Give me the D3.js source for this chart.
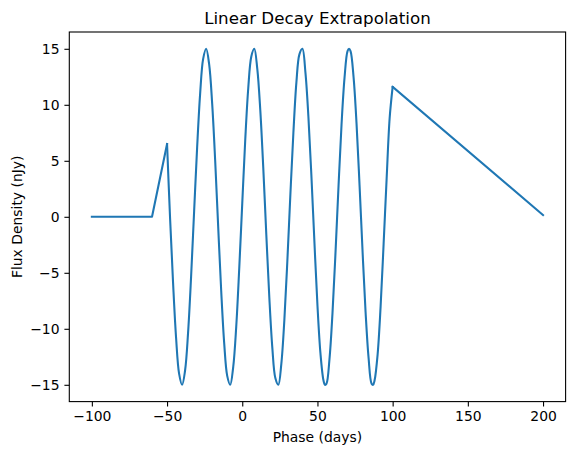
<!DOCTYPE html>
<html lang="en">
	<head>
		<meta charset="utf-8">
		<title>D3: Linear Decay Extrapolation</title>
		<script type="text/javascript" src="https://cdn.jsdelivr.net/npm/d3@7"></script>
		<style type="text/css">
			body {
				margin: 0;
				background: #fff;
			}

			svg text {
				font-family: "DejaVu Sans", sans-serif;
				fill: #000;
			}

			.tick text {
				font-size: 13.9px;
			}

			.domain,
			.tick line {
				stroke: #000;
				stroke-width: 1.1px;
			}
		</style>
	</head>
	<body>
		<script type="text/javascript">

			//Data
			var xTicks = [-100, -50, 0, 50, 100, 150, 200];
			var yTicks = [-15, -10, -5, 0, 5, 10, 15];

			// flat part and the ramp before the oscillation
			var prePhase = [-100, -60, -50];
			var preFlux = [0, 0, 6.5];

			// oscillating part, about every 2 days (plus the extremes)
			var oscPhase = [-50, -48, -46, -44, -42, -40, -38, -36, -34, -32, -30, -28, -26, -24, -22, -20,
				-18, -16, -14, -12, -10, -8, -6, -4, -2, 0, 2, 4, 6, 8, 10, 12, 14, 16, 18, 20, 22, 24, 26, 28,
				30, 32, 34, 36, 38, 40, 42, 44, 46, 48, 50, 52, 54, 55, 56, 58, 60, 62, 64, 66, 68, 70, 71, 72, 74, 76,
				78, 80, 82, 84, 86, 87, 88, 90, 92, 94, 96, 98, 100];
			var oscFlux = [6.5, -0.1, -5.9, -10.8, -14.0, -15.0, -13.7, -10.3, -5.3, 0.5, 6.2, 11.0, 14.1, 15.0, 13.6, 10.1,
				5.0, -0.9, -6.6, -11.3, -14.2, -15.0, -13.4, -9.8, -4.6, 1.2, 6.9, 11.5, 14.3, 15.0, 13.2, 9.5, 4.3, -1.6, -7.2, -11.7, -14.4, -15.0, -13.1, -9.2,
				-3.9, 2.0, 7.5, 12.0, 14.5, 15.0, 12.9, 8.9, 3.6, -2.3, -7.9, -12.2, -14.6, -15.0, -14.9, -12.7, -8.6, -3.2, 2.7, 8.2, 12.4, 14.8, 15.0, 14.8, 12.5, 8.3,
				2.8, -3.1, -8.5, -12.6, -14.9, -15.0, -14.6, -12.3, -8.0, -2.4, 3.4, 8.8, 11.6];

			// linear decay
			var decayPhase = [100, 200];
			var decayFlux = [11.6, 0.15];

			//Settings
			var w = 574;
			var h = 455;
			var margin = {left: 69.3, right: 8.4, top: 32, bottom: 53.4};

			var svg = d3.select("body")
				.append("svg")
				.attr("width", w)
				.attr("height", h);

			var x = d3.scaleLinear()
				.domain([-115, 215])
				.range([margin.left, w - margin.right]);

			var y = d3.scaleLinear()
				.domain([-16.5, 16.5])
				.range([h - margin.bottom, margin.top]);

			function toPoints(px, py) {
				return px.map(function(d, i) { return [d, py[i]]; });
			}

			var straight = d3.line()
				.x(function(d) { return x(d[0]); })
				.y(function(d) { return y(d[1]); });

			var smooth = d3.line()
				.x(function(d) { return x(d[0]); })
				.y(function(d) { return y(d[1]); })
				.curve(d3.curveCatmullRom.alpha(0.5));

			var lines = svg.append("g")
				.attr("fill", "none")
				.attr("stroke", "#1f77b4")
				.attr("stroke-width", 2.08)
				.attr("stroke-linejoin", "round")
				.attr("stroke-linecap", "square");

			lines.append("path").attr("d", straight(toPoints(prePhase, preFlux)));
			lines.append("path").attr("d", smooth(toPoints(oscPhase, oscFlux)));
			lines.append("path").attr("d", straight(toPoints(decayPhase, decayFlux)));

			//Axes
			svg.append("g")
				.attr("transform", "translate(0," + (h - margin.bottom) + ")")
				.call(d3.axisBottom(x).tickValues(xTicks).tickSizeOuter(0).tickSize(4.9).tickPadding(4.9)
					.tickFormat(function(d) { return d < 0 ? "\u2212" + Math.abs(d) : d; }));

			svg.append("g")
				.attr("transform", "translate(" + margin.left + ",0)")
				.call(d3.axisLeft(y).tickValues(yTicks).tickSizeOuter(0).tickSize(4.9).tickPadding(4.9)
					.tickFormat(function(d) { return d < 0 ? "\u2212" + Math.abs(d) : d; }));

			// frame
			svg.append("rect")
				.attr("x", margin.left)
				.attr("y", margin.top)
				.attr("width", w - margin.left - margin.right)
				.attr("height", h - margin.top - margin.bottom)
				.attr("fill", "none")
				.attr("stroke", "#000")
				.attr("stroke-width", 1.1);

			svg.selectAll(".domain").remove();

			//Labels
			svg.append("text")
				.attr("x", (margin.left + w - margin.right) / 2)
				.attr("y", 24)
				.attr("text-anchor", "middle")
				.style("font-size", "16.7px")
				.text("Linear Decay Extrapolation");

			svg.append("text")
				.attr("x", (margin.left + w - margin.right) / 2)
				.attr("y", 442)
				.attr("text-anchor", "middle")
				.style("font-size", "13.9px")
				.text("Phase (days)");

			svg.append("text")
				.attr("transform", "translate(22," + ((margin.top + h - margin.bottom) / 2) + ") rotate(-90)")
				.attr("text-anchor", "middle")
				.style("font-size", "13.9px")
				.text("Flux Density (nJy)");

		</script>
	</body>
</html>
